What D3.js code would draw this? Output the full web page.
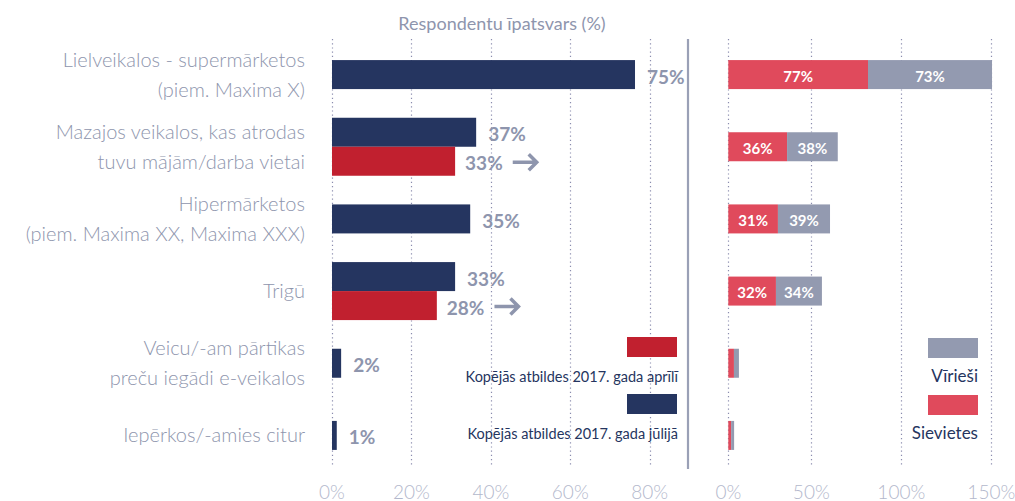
<!DOCTYPE html>
<meta charset="utf-8">
<script src="https://d3js.org/d3.v7.min.js"></script>
<style>
  body { margin: 0; background: #fff; }
  text { font-family: Lato, "Open Sans", sans-serif; }
</style>
<div id="my_dataviz"></div>
<script>

// categories (each line of a label is an item)
var categories = [
  ["Lielveikalos - supermārketos", "(piem. Maxima X)"],
  ["Mazajos veikalos, kas atrodas", "tuvu mājām/darba vietai"],
  ["Hipermārketos", "(piem. Maxima XX, Maxima XXX)"],
  ["Trigū"],
  ["Veicu/-am pārtikas", "preču iegādi e-veikalos"],
  ["Iepērkos/-amies citur"]
];

// left panel: total answers (July, and April where asked)
var julyValues  = [76.3, 36.3, 34.8, 31.0, 2.3, 1.2];
var julyLabels  = ["75%", "37%", "35%", "33%", "2%", "1%"];
var aprilValues = [null, 31.0, null, 26.4, null, null];
var aprilLabels = [null, "33%", null, "28%", null, null];

// right panel: women / men
var womenValues = [81.5, 35.4, 29.9, 28.7, 3.4, 1.7];
var womenLabels = ["77%", "36%", "31%", "32%", "", ""];
var menValues   = [68.9, 29.3, 30.5, 27.2, 3.0, 1.8];
var menLabels   = ["73%", "38%", "39%", "34%", "", ""];

var leftTicks  = [0, 20, 40, 60, 80];
var rightTicks = [0, 50, 100, 150];

var navy = "#253560", aprilRed = "#c1202f", women = "#e04a5c", men = "#939ab0";
var labelGrey = "#8e95ad", tickGrey = "#b3b8cc", gridCol = "#8a8cae";

var width = 1015, height = 501;
var svg = d3.select("#my_dataviz").append("svg")
  .attr("width", width).attr("height", height);

// band scale for rows
var y = d3.scaleBand()
  .domain(d3.range(categories.length))
  .range([38.5, 471.5])
  .paddingInner(0).paddingOuter(0);
var barH = 29;

var xL = d3.scaleLinear().domain([0, 80]).range([332, 649.7]);
var xR = d3.scaleLinear().domain([0, 50, 100, 150]).range([728.3, 811.3, 901.3, 991.3]);

// title
svg.append("text")
  .attr("x", 502).attr("y", 23)
  .attr("text-anchor", "middle").attr("dominant-baseline", "central")
  .style("font-size", "18px").style("fill", labelGrey)
  .text("Respondentu īpatsvars (%)");

// gridlines
function grid(scale, ticks) {
  svg.append("g").selectAll("line")
    .data(ticks).enter().append("line")
      .attr("x1", function(d){ return Math.round(scale(d)) + 0.5 })
      .attr("x2", function(d){ return Math.round(scale(d)) + 0.5 })
      .attr("y1", 39).attr("y2", 466)
      .attr("stroke", gridCol).attr("stroke-width", 1.2)
      .attr("stroke-dasharray", "1.2,3");
}
grid(xL, leftTicks);
grid(xR, rightTicks);

// tick labels
function tickLabels(scale, ticks) {
  svg.append("g").selectAll("text")
    .data(ticks).enter().append("text")
      .attr("x", function(d){ return scale(d) })
      .attr("y", 491)
      .attr("text-anchor", "middle").attr("dominant-baseline", "central")
      .style("font-size", "19px").style("font-weight", 300).style("fill", tickGrey)
      .text(function(d){ return d + "%" });
}
tickLabels(xL, leftTicks);
tickLabels(xR, rightTicks);

// separator
svg.append("line")
  .attr("x1", 688).attr("x2", 688).attr("y1", 39).attr("y2", 469)
  .attr("stroke", "#9aa0b6").attr("stroke-width", 2.2);

// category labels
categories.forEach(function(lines, i) {
  var cy = y(i) + y.bandwidth() / 2 - 1;
  var t = svg.append("text")
    .attr("text-anchor", "end")
    .style("font-size", "20px").style("font-weight", 300).style("fill", labelGrey);
  lines.forEach(function(line, j) {
    t.append("tspan")
      .attr("x", 305)
      .attr("y", cy + (j - (lines.length - 1) / 2) * 30)
      .attr("dominant-baseline", "central")
      .text(line);
  });
});

// left bars
var rows = d3.range(categories.length).map(function(i) {
  return {i: i, july: julyValues[i], julyLabel: julyLabels[i],
          april: aprilValues[i], aprilLabel: aprilLabels[i]};
});

var gL = svg.append("g");
rows.forEach(function(r) {
  var c = y(r.i) + y.bandwidth() / 2;
  var jy = r.april == null ? c - barH / 2 : c - barH;
  gL.append("rect")
    .attr("x", xL(0)).attr("y", jy)
    .attr("width", xL(r.july) - xL(0)).attr("height", barH)
    .attr("fill", navy);
  gL.append("text")
    .attr("x", xL(r.july) + 12).attr("y", jy + barH / 2 + 1.5)
    .attr("dominant-baseline", "central")
    .style("font-size", "19px").style("font-weight", 700).style("fill", labelGrey)
    .text(r.julyLabel);
  if (r.april != null) {
    var ay = c;
    gL.append("rect")
      .attr("x", xL(0)).attr("y", ay)
      .attr("width", xL(r.april) - xL(0)).attr("height", barH)
      .attr("fill", aprilRed);
    var lbl = gL.append("text")
      .attr("x", xL(r.april) + 10).attr("y", ay + barH / 2 + 1.5)
      .attr("dominant-baseline", "central")
      .style("font-size", "19px").style("font-weight", 700).style("fill", labelGrey)
      .text(r.aprilLabel);
    // arrow after the April label
    var ax = xL(r.april) + 10 + lbl.node().getComputedTextLength() + 10,
        aym = ay + barH / 2 + 1;
    gL.append("path")
      .attr("d", "M" + ax + "," + aym + "H" + (ax + 23) +
                 "M" + (ax + 16) + "," + (aym - 8) + "L" + (ax + 24) + "," + aym + "L" + (ax + 16) + "," + (aym + 8))
      .attr("fill", "none").attr("stroke", labelGrey).attr("stroke-width", 3.5)
      .attr("stroke-linejoin", "miter");
  }
});

// right stacked bars
var gR = svg.append("g");
d3.range(categories.length).forEach(function(i) {
  var c = y(i) + y.bandwidth() / 2;
  var segs = [
    {x0: 0, x1: womenValues[i], col: women, label: womenLabels[i]},
    {x0: womenValues[i], x1: womenValues[i] + menValues[i], col: men, label: menLabels[i]}
  ];
  segs.forEach(function(s) {
    gR.append("rect")
      .attr("x", xR(s.x0)).attr("y", c - barH / 2)
      .attr("width", xR(s.x1) - xR(s.x0)).attr("height", barH)
      .attr("fill", s.col);
    gR.append("text")
      .attr("x", (xR(s.x0) + xR(s.x1)) / 2).attr("y", c + 1)
      .attr("text-anchor", "middle").attr("dominant-baseline", "central")
      .style("font-size", "15px").style("font-weight", 700).style("fill", "#fff")
      .text(s.label);
  });
});

// legend left
var legL = [
  {col: aprilRed, text: "Kopējās atbildes 2017. gada aprīlī", y: 337},
  {col: navy, text: "Kopējās atbildes 2017. gada jūlijā", y: 394}
];
legL.forEach(function(d) {
  svg.append("rect").attr("x", 627).attr("y", d.y).attr("width", 50).attr("height", 20).attr("fill", d.col);
  svg.append("text").attr("x", 678).attr("y", d.y + 39)
    .attr("text-anchor", "end").attr("dominant-baseline", "central")
    .style("font-size", "14.5px").style("fill", navy).text(d.text);
});

// legend right
var legR = [
  {col: men, text: "Vīrieši", y: 338},
  {col: women, text: "Sievietes", y: 395}
];
legR.forEach(function(d) {
  svg.append("rect").attr("x", 928).attr("y", d.y).attr("width", 50).attr("height", 20).attr("fill", d.col);
  svg.append("text").attr("x", 978).attr("y", d.y + 37)
    .attr("text-anchor", "end").attr("dominant-baseline", "central")
    .style("font-size", "17px").style("fill", navy).text(d.text);
});

</script>
